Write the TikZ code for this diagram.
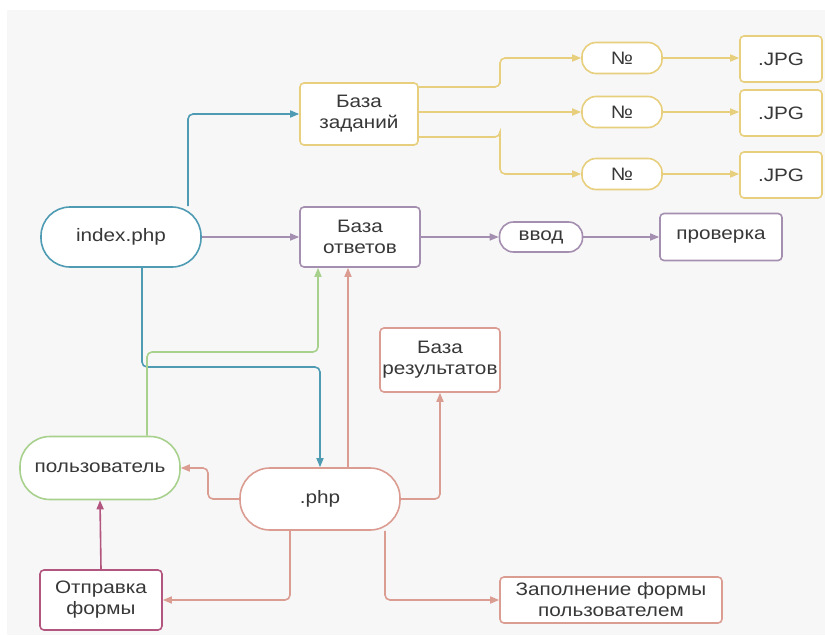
\documentclass[tikz,border=0pt]{standalone}
\usepackage{fontspec}
\setmainfont[FakeStretch=1.15]{Liberation Sans}
\usetikzlibrary{arrows.meta}
\definecolor{bgc}{HTML}{F7F7F7}
\definecolor{cteal}{HTML}{4E9BB3}
\definecolor{cyel}{HTML}{E8CF7E}
\definecolor{cpur}{HTML}{A58FB0}
\definecolor{csal}{HTML}{DB9C92}
\definecolor{cgrn}{HTML}{A9D18E}
\definecolor{cmag}{HTML}{B2557F}
\definecolor{ctxt}{HTML}{383838}
\tikzset{
  x=1pt, y=-1pt,
  every node/.style={font=\fontsize{18}{21}\selectfont, text=ctxt, align=center, fill=white, line width=1.6pt, inner sep=0pt},
  rbox/.style={draw, rounded corners=4pt, minimum width=#1},
  pill/.style={draw, rounded corners=14pt, minimum width=#1},
  conn/.style={line width=1.6pt, rounded corners=5pt, -{Triangle[length=9pt,width=7pt]}},
  plain/.style={line width=1.6pt, rounded corners=5pt}
}
\begin{document}
\begin{tikzpicture}
\useasboundingbox (0,0) rectangle (825,635);
\fill[white] (0,0) rectangle (825,635);
\fill[bgc] (7,10) rectangle (825,635);

% nodes
\node[pill=160pt, minimum height=60pt, draw=cteal, rounded corners=29pt] (idx) at (121,237) {index.php};
\node[rbox=118pt, minimum height=62pt, draw=cyel] (zad) at (359,114) {База\\заданий};
\node[rbox=120pt, minimum height=60pt, draw=cpur] (otv) at (360,237) {База\\ответов};
\node[pill=80pt, minimum height=31pt, draw=cyel] (n1) at (622,58) {№};
\node[pill=80pt, minimum height=31pt, draw=cyel] (n2) at (622,112) {№};
\node[pill=80pt, minimum height=31pt, draw=cyel] (n3) at (622,174) {№};
\node[rbox=82pt, minimum height=46pt, draw=cyel] (j1) at (781,59) {.JPG};
\node[rbox=82pt, minimum height=46pt, draw=cyel] (j2) at (781,113) {.JPG};
\node[rbox=82pt, minimum height=46pt, draw=cyel] (j3) at (781,175) {.JPG};
\node[pill=83pt, minimum height=30pt, draw=cpur] (vvod) at (541,237) {ввод};
\node[rbox=122pt, minimum height=47pt, draw=cpur] (prov) at (721,237) {проверка};
\node[rbox=120pt, minimum height=64pt, draw=csal] (res) at (440,360) {База\\результатов};
\node[pill=160pt, minimum height=63pt, draw=cgrn, rounded corners=30pt] (user) at (100,468) {пользователь};
\node[pill=160pt, minimum height=62pt, draw=csal, rounded corners=30pt] (php) at (320,499) {.php};
\node[rbox=122pt, minimum height=60pt, draw=cmag] (otpr) at (101,600) {Отправка\\формы};
\node[rbox=222pt, minimum height=46pt, draw=csal] (zap) at (611,600) {Заполнение формы\\пользователем};

% connectors
\draw[conn, cteal] (idx.north -| 188,0) |- (zad.west);
\draw[conn, cpur] (idx.east) -- (otv.west);
\draw[conn, cteal] (idx.south -| 142,0) |- (320,367) -- (php.north -| 320,0);
\draw[conn, cgrn] (user.north -| 147,0) |- (318,352) -- (otv.south -| 318,0);
\draw[conn, csal] (php.north -| 348,0) -- (otv.south -| 348,0);
\draw[conn, csal] (php.east) -| (res.south);
\draw[conn, csal] (php.west) -| (208,468) -- (user.east);
\draw[conn, csal] (php.south -| 290,0) |- (otpr.east);
\draw[conn, csal] (php.south -| 385,0) |- (zap.west);
\draw[conn, cmag] (otpr.north) -- (user.south);

\draw[conn, cyel] (zad.east |- 0,87) -| (500,87) |- (n1.west);
\draw[conn, cyel] (zad.east |- 0,112) -- (n2.west);
\draw[conn, cyel] (zad.east |- 0,137) -| (500,137) |- (n3.west);
\draw[conn, cyel] (n1.east) -- (j1.west |- n1.east);
\draw[conn, cyel] (n2.east) -- (j2.west |- n2.east);
\draw[conn, cyel] (n3.east) -- (j3.west |- n3.east);
\draw[conn, cpur] (otv.east) -- (vvod.west);
\draw[conn, cpur] (vvod.east) -- (prov.west);
\end{tikzpicture}
\end{document}
